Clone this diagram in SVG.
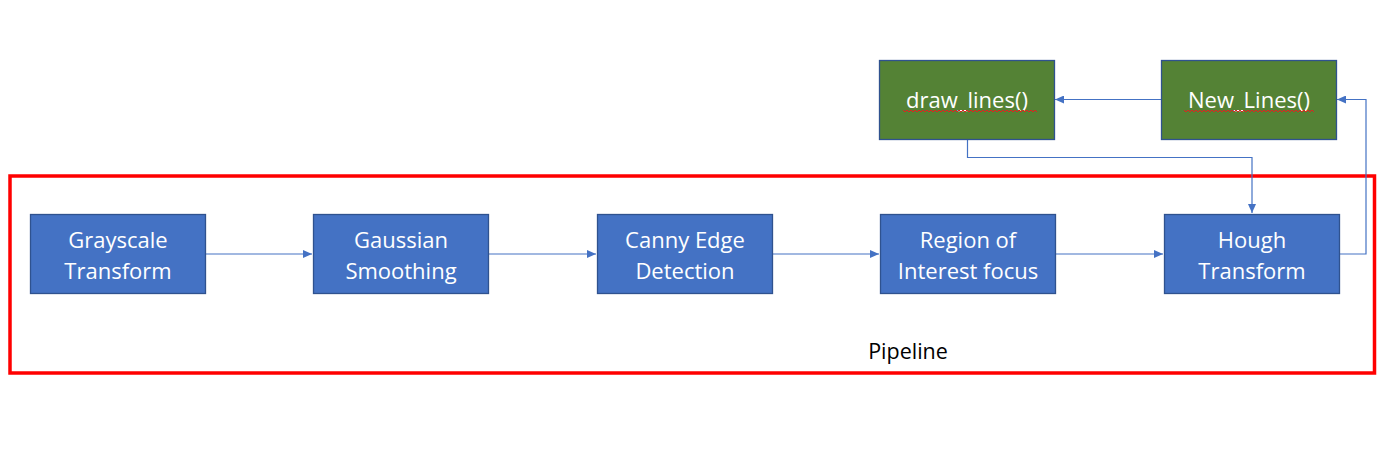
<svg xmlns="http://www.w3.org/2000/svg" width="1381" height="476" viewBox="0 0 1381 476">
<style>
.box{fill:#4472C4;stroke:#2F528F;stroke-width:1.3}
.gbox{fill:#548235;stroke:#2F528F;stroke-width:1.3}
.lbl{font-family:"Open Sans","Liberation Sans",sans-serif;font-size:22px;fill:#ffffff;text-anchor:middle}
.conn{fill:none;stroke:#4472C4;stroke-width:1.2}
.sq{fill:none;stroke:#E02020;stroke-width:1}
</style>
<defs>
<marker id="ah" markerWidth="10" markerHeight="8" refX="9" refY="4" orient="auto" markerUnits="userSpaceOnUse">
<path d="M0,0 L9,4 L0,8 Z" fill="#4472C4"/>
</marker>
</defs>
<rect width="1381" height="476" fill="#ffffff"/>
<g id="pipeline">
<rect x="10" y="176" width="1364.5" height="197" fill="none" stroke="#FF0000" stroke-width="3.5"/>
<text x="908" y="359" style="font-family:'Open Sans','Liberation Sans',sans-serif;font-size:21.5px;fill:#000000;text-anchor:middle">Pipeline</text>
</g>
<g id="connectors">
<path class="conn" d="M205.5,254 H312" marker-end="url(#ah)"/>
<path class="conn" d="M488.5,254 H596" marker-end="url(#ah)"/>
<path class="conn" d="M772.5,254 H879" marker-end="url(#ah)"/>
<path class="conn" d="M1055.5,254 H1163" marker-end="url(#ah)"/>
<path class="conn" d="M1339.5,254 H1366 V99.5 H1337" marker-end="url(#ah)"/>
<path class="conn" d="M1161,99.5 H1055" marker-end="url(#ah)"/>
<path class="conn" d="M967.5,139.5 V157.5 H1252 V213" marker-end="url(#ah)"/>
</g>
<g id="grayscale">
<rect class="box" x="30.5" y="214.5" width="175" height="79"/>
<text class="lbl" x="118" y="248">Grayscale</text>
<text class="lbl" x="118" y="279">Transform</text>
</g>
<g id="gaussian">
<rect class="box" x="313.5" y="214.5" width="175" height="79"/>
<text class="lbl" x="401" y="248">Gaussian</text>
<text class="lbl" x="401" y="279">Smoothing</text>
</g>
<g id="canny">
<rect class="box" x="597.5" y="214.5" width="175" height="79"/>
<text class="lbl" x="685" y="248">Canny Edge</text>
<text class="lbl" x="685" y="279">Detection</text>
</g>
<g id="roi">
<rect class="box" x="880.5" y="214.5" width="175" height="79"/>
<text class="lbl" x="968" y="248">Region of</text>
<text class="lbl" x="968" y="279">Interest focus</text>
</g>
<g id="hough">
<rect class="box" x="1164.5" y="214.5" width="175" height="79"/>
<text class="lbl" x="1252" y="248">Hough</text>
<text class="lbl" x="1252" y="279">Transform</text>
</g>
<g id="draw_lines">
<rect class="gbox" x="879.5" y="60.5" width="175" height="79"/>
<text class="lbl" x="967" y="108">draw_lines()</text>
<path class="sq" d="M903,110 l2,2 l2,-2 l2,2 l2,-2 l2,2 l2,-2 l2,2 l2,-2 l2,2 l2,-2 l2,2 l2,-2 l2,2 l2,-2 l2,2 l2,-2 l2,2 l2,-2 l2,2 l2,-2 l2,2 l2,-2 l2,2 l2,-2 l2,2 l2,-2 l2,2 l2,-2 l2,2 l2,-2 l2,2 l2,-2 l2,2 l2,-2 l2,2 l2,-2 l2,2 l2,-2 l2,2 l2,-2 l2,2 l2,-2 l2,2 l2,-2 l2,2 l2,-2 l2,2 l2,-2 l2,2 l2,-2 l2,2 l2,-2 l2,2 l2,-2 l2,2 l2,-2 l2,2 l2,-2 l2,2 l2,-2 l2,2 l2,-2 l2,2 l2,-2 l2,2 l2,-2 l2,2"/>
</g>
<g id="new_lines">
<rect class="gbox" x="1161.5" y="60.5" width="175" height="79"/>
<text class="lbl" x="1249" y="108">New_Lines()</text>
<path class="sq" d="M1184,110 l2,2 l2,-2 l2,2 l2,-2 l2,2 l2,-2 l2,2 l2,-2 l2,2 l2,-2 l2,2 l2,-2 l2,2 l2,-2 l2,2 l2,-2 l2,2 l2,-2 l2,2 l2,-2 l2,2 l2,-2 l2,2 l2,-2 l2,2 l2,-2 l2,2 l2,-2 l2,2 l2,-2 l2,2 l2,-2 l2,2 l2,-2 l2,2 l2,-2 l2,2 l2,-2 l2,2 l2,-2 l2,2 l2,-2 l2,2 l2,-2 l2,2 l2,-2 l2,2 l2,-2 l2,2 l2,-2 l2,2 l2,-2 l2,2 l2,-2 l2,2 l2,-2 l2,2 l2,-2 l2,2 l2,-2 l2,2 l2,-2 l2,2 l2,-2 l2,2"/>
</g>
</svg>
